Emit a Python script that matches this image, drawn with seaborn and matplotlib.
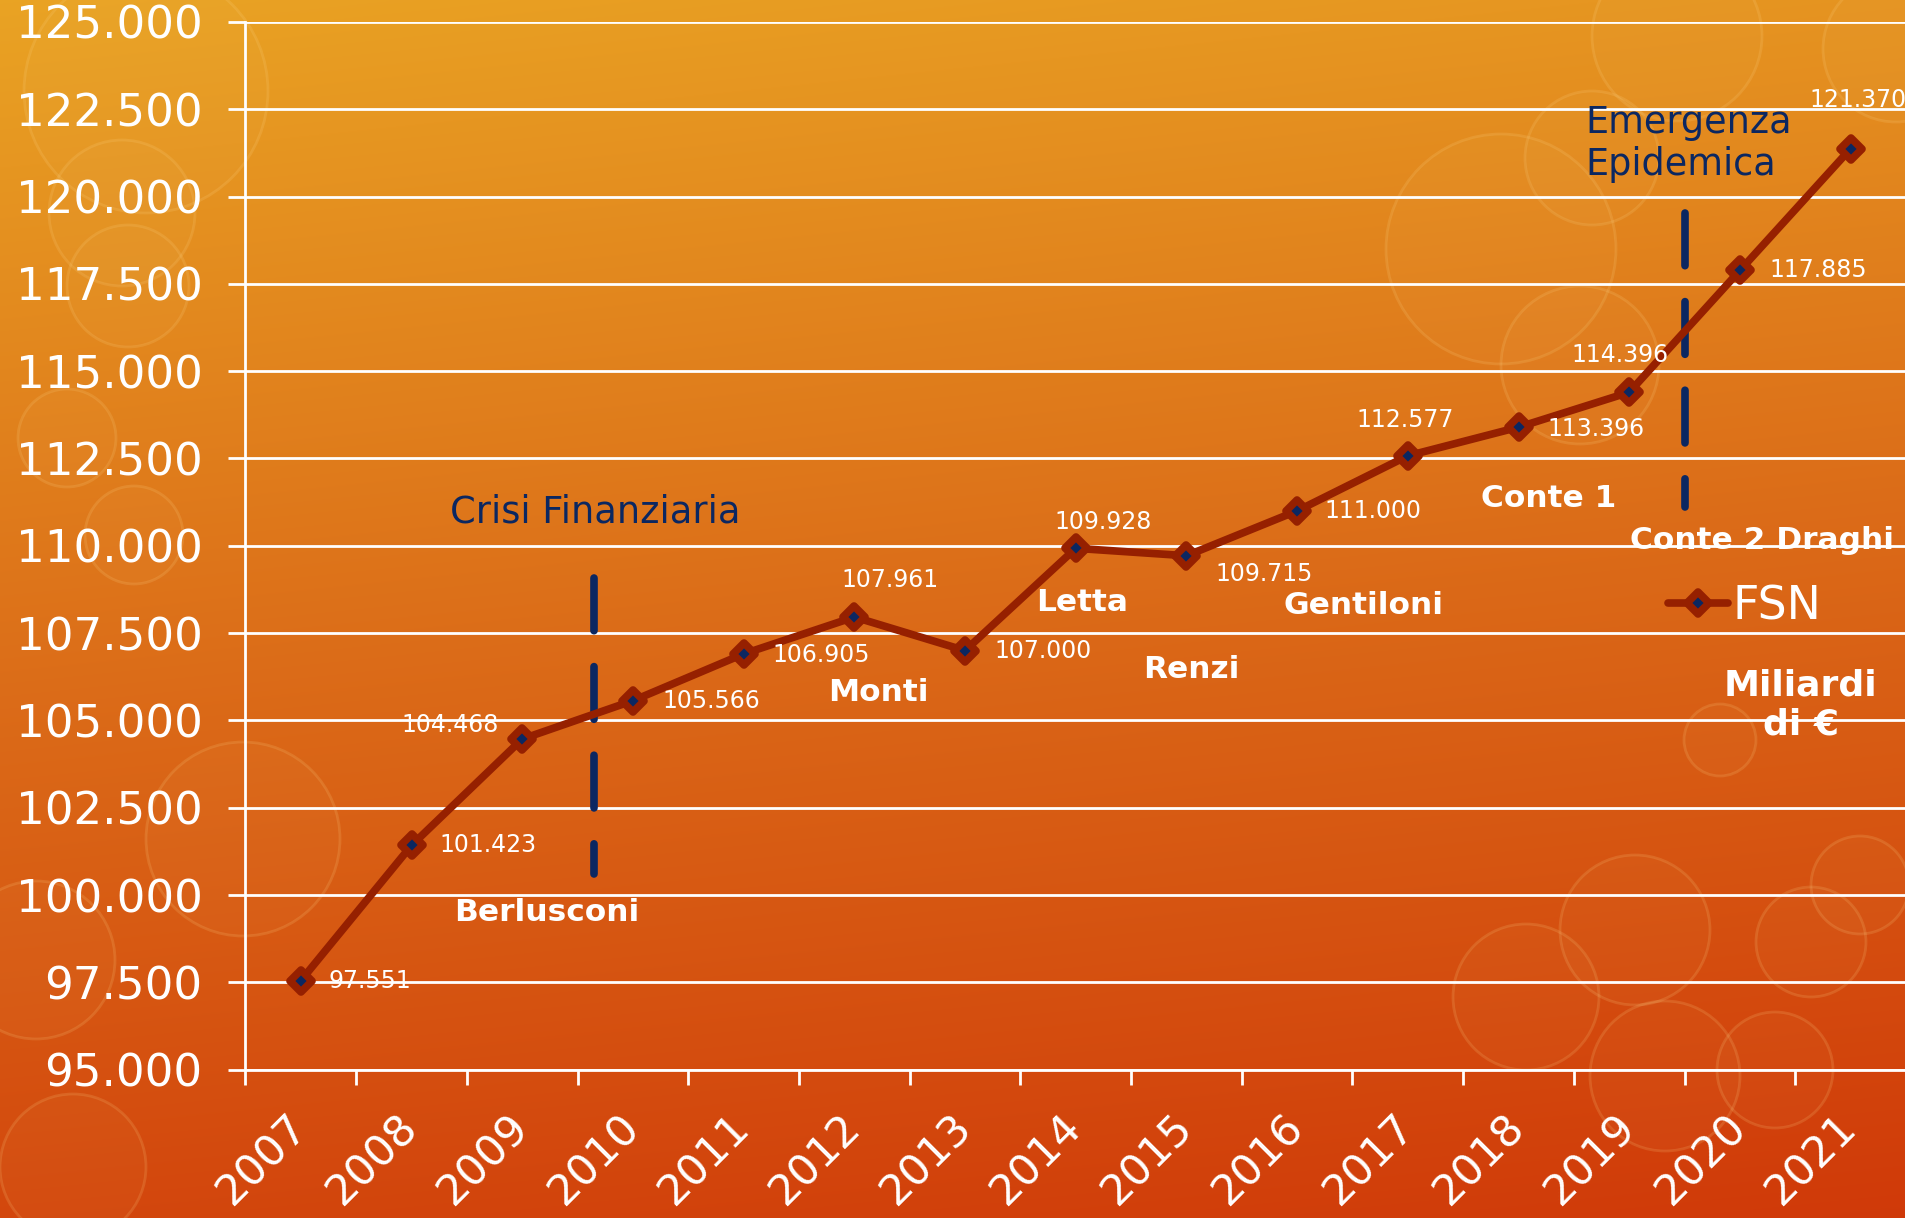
import numpy as np
import pandas as pd
import matplotlib
matplotlib.use("Agg")
import matplotlib.pyplot as plt
from matplotlib.patches import Circle
from matplotlib.markers import MarkerStyle
import seaborn as sns

# ---- data -------------------------------------------------------------
years = ["2007", "2008", "2009", "2010", "2011", "2012", "2013", "2014",
         "2015", "2016", "2017", "2018", "2019", "2020", "2021"]
fsn = [97551, 101423, 104468, 105566, 106905, 107961, 107000, 109928,
       109715, 111000, 112577, 113396, 114396, 117885, 121370]
y_ticks = [95000, 97500, 100000, 102500, 105000, 107500, 110000,
           112500, 115000, 117500, 120000, 122500, 125000]
governments = ["Berlusconi", "Monti", "Letta", "Renzi", "Gentiloni",
               "Conte 1", "Conte 2 Draghi"]
events = ["Crisi Finanziaria", "Emergenza\nEpidemica"]
series_name = "FSN"
unit_label = "Miliardi\ndi €"

NAVY = "#0b2761"
RED = "#962000"
WHITE = "white"


def it_num(v):
    return f"{v:,}".replace(",", ".")


W, H, DPI = 1906, 1218, 100
plt.rcParams["font.family"] = ["DejaVu Sans"]
fig = plt.figure(figsize=(W / DPI, H / DPI), dpi=DPI)

# ---- warm gradient background with soft bokeh rings -------------------
bg = fig.add_axes([0, 0, 1, 1])
bg.set_axis_off()
yy, xx = np.mgrid[0:1:500j, 0:1:780j]
t = np.clip(0.86 * yy + 0.14 * xx, 0, 1)
stops = [0.0, 0.5, 1.0]
cols = np.array([[0.915, 0.640, 0.140],
                 [0.860, 0.420, 0.095],
                 [0.815, 0.225, 0.035]])
img = np.stack([np.interp(t, stops, cols[:, i]) for i in range(3)], axis=-1)
bg.imshow(img, extent=[0, W, H, 0], aspect="auto", interpolation="bilinear")
bg.set_xlim(0, W)
bg.set_ylim(H, 0)
rings = [(146, 91, 122), (122, 213, 73), (128, 286, 61), (67, 438, 49),
         (134, 535, 49), (243, 839, 97), (36, 960, 79), (73, 1167, 73),
         (1677, 36, 85), (1896, 49, 73), (1592, 158, 67), (1501, 249, 115),
         (1580, 365, 79), (1635, 930, 75), (1526, 997, 73), (1665, 1076, 75),
         (1775, 1070, 58), (1860, 885, 49), (1811, 942, 55), (1720, 740, 36)]
for cx, cy, r in rings:
    bg.add_patch(Circle((cx, cy), r, facecolor=(1, 0.9, 0.6, 0.035),
                        edgecolor=(1, 0.85, 0.55, 0.16), lw=2.0))

# ---- main chart -------------------------------------------------------
left, top, bottom = 245.5, 21.9, 1069.7
ax = fig.add_axes([left / W, 1 - bottom / H, 1 - left / W, (bottom - top) / H])
ax.patch.set_visible(False)

df = pd.DataFrame({"pos": np.arange(len(years)), "fsn": fsn})
sns.lineplot(data=df, x="pos", y="fsn", ax=ax, color=RED, linewidth=5.5,
             marker=MarkerStyle("D", joinstyle="round"), markersize=11.5,
             markerfacecolor=NAVY, markeredgecolor=RED, markeredgewidth=5.5,
             solid_joinstyle="round", solid_capstyle="round",
             legend=False, zorder=5)
fsn_line = ax.lines[0]

ax.set_xlim(-0.5, len(years) - 0.5)
ax.set_ylim(y_ticks[0], y_ticks[-1])
ax.set_xlabel("")
ax.set_ylabel("")

ax.set_yticks(y_ticks, [it_num(v) for v in y_ticks])
ax.tick_params(axis="y", colors=WHITE, labelsize=32.5, length=12, width=2,
               pad=19, direction="out")
ax.set_xticks(np.arange(len(years)), years)
ax.tick_params(axis="x", which="major", colors=WHITE, labelsize=31,
               length=0, pad=37)
ax.set_xticks(np.arange(len(years)) - 0.5, minor=True)
ax.tick_params(axis="x", which="minor", colors=WHITE, length=11, width=2,
               direction="out")
for lbl in ax.get_xticklabels():
    lbl.set_rotation(45)
    lbl.set_ha("right")
    lbl.set_va("center")
    lbl.set_rotation_mode("anchor")

ax.yaxis.grid(True, color=WHITE, lw=2)
ax.set_axisbelow(True)
for side in ("top", "right"):
    ax.spines[side].set_visible(False)
for side in ("left", "bottom"):
    ax.spines[side].set_color(WHITE)
    ax.spines[side].set_linewidth(2)

# value labels next to each point
label_offsets = [(20, 0, "left"), (20, 0, "left"), (-17, 10, "right"),
                 (21, 0, "left"), (21, -1, "left"), (26, 27, "center"),
                 (21, 0, "left"), (20, 19, "center"), (21, -13, "left"),
                 (20, 0, "left"), (-2, 26, "center"), (21, -1, "left"),
                 (-7, 27, "center"), (21, 0, "left"), (5, 35, "center")]
for i, (v, (dx, dy, ha)) in enumerate(zip(fsn, label_offsets)):
    ax.annotate(it_num(v), (i, v), xytext=(dx, dy), textcoords="offset points",
                ha=ha, va="center", color=WHITE, fontsize=17,
                annotation_clip=False, zorder=6)

# government periods
gov_pos = [(2.22, 99500), (5.22, 105800), (7.06, 108364), (8.04, 106450),
           (9.60, 108295), (11.27, 111357), (13.20, 110139)]
for name, (gx, gy) in zip(governments, gov_pos):
    ax.text(gx, gy, name, ha="center", va="center", color=WHITE,
            fontsize=22.5, fontweight="bold", zorder=6)
ax.text(13.55, 105441, unit_label, ha="center", va="center", color=WHITE,
        fontsize=26, fontweight="bold", zorder=6)

# event markers
ax.text(2.66, 110974, events[0], ha="center", va="center", color=NAVY,
        fontsize=26.5, zorder=6)
ax.text(11.60, 121520, events[1], ha="left", va="center", color=NAVY,
        fontsize=26.3, zorder=6, linespacing=1.2)
ax.plot([2.65, 2.65], [109078, 100603], color=NAVY, lw=5.5,
        linestyle=(0, (6.9, 4.7)), dash_capstyle="round", zorder=4)
ax.plot([12.5, 12.5], [119529, 111111], color=NAVY, lw=5.5,
        linestyle=(0, (6.9, 4.7)), dash_capstyle="round", zorder=4)

leg = ax.legend([fsn_line], [series_name], loc="center left",
                bbox_to_anchor=(1668 / W, 1 - 607 / H),
                bbox_transform=fig.transFigure, frameon=False, fontsize=33,
                handlelength=1.3, handletextpad=0.1, borderpad=0,
                borderaxespad=0, labelcolor=WHITE)

fig.savefig("out.png", dpi=DPI)
